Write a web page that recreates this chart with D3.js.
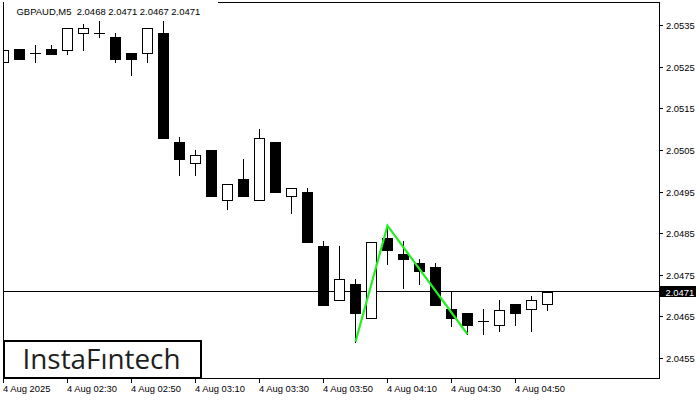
<!DOCTYPE html>
<html><head><meta charset="utf-8">
<script src="https://cdn.jsdelivr.net/npm/d3@7"></script>
<style>body{margin:0;background:#fff}svg{display:block}text{font-family:"Liberation Sans",Arial,sans-serif}</style>
</head><body><svg id="c" width="700" height="400"></svg>
<script>
const times = ["02:10","02:15","02:20","02:25","02:30","02:35","02:40","02:45","02:50","02:55","03:00","03:05","03:10","03:15","03:20","03:25","03:30","03:35","03:40","03:45","03:50","03:55","04:00","04:05","04:10","04:15","04:20","04:25","04:30","04:35","04:40","04:45","04:50","04:55","05:00"];
const opens  = [2.05260,2.05292,2.05282,2.05292,2.05290,2.05330,2.05331,2.05321,2.05283,2.05282,2.05331,2.05070,2.05019,2.05050,2.04930,2.04979,2.04930,2.05070,2.04939,2.04950,2.04820,2.04689,2.04728,2.04647,2.04839,2.04801,2.04779,2.04769,2.04667,2.04658,2.04638,2.04629,2.04679,2.04667,2.04679];
const highs  = [2.05291,2.05292,2.05303,2.05303,2.05343,2.05352,2.05360,2.05331,2.05283,2.05342,2.05360,2.05080,2.05050,2.05050,2.04969,2.05029,2.05101,2.05070,2.04959,2.04959,2.04830,2.04820,2.04740,2.04829,2.04866,2.04830,2.04789,2.04779,2.04709,2.04658,2.04667,2.04689,2.04679,2.04699,2.04708];
const lows   = [2.05260,2.05269,2.05260,2.05281,2.05280,2.05291,2.05320,2.05260,2.05230,2.05260,2.05079,2.04989,2.04989,2.04939,2.04908,2.04939,2.04930,2.04948,2.04899,2.04828,2.04678,2.04689,2.04589,2.04647,2.04777,2.04717,2.04727,2.04678,2.04628,2.04607,2.04607,2.04616,2.04629,2.04616,2.04666];
const closes = [2.05291,2.05269,2.05282,2.05281,2.05343,2.05342,2.05331,2.05269,2.05269,2.05342,2.05079,2.05028,2.05038,2.04939,2.04969,2.04939,2.05079,2.04948,2.04959,2.04828,2.04678,2.04740,2.04657,2.04829,2.04809,2.04787,2.04758,2.04678,2.04647,2.04629,2.04638,2.04666,2.04658,2.04689,2.04708];
const priceTicks = [2.0535,2.0525,2.0515,2.0505,2.0495,2.0485,2.0475,2.0465,2.0455];
const timeTickIdx = [0,4,8,12,16,20,24,28,32];
const timeTickLabels = ["4 Aug 2025","4 Aug 02:30","4 Aug 02:50","4 Aug 03:10","4 Aug 03:30","4 Aug 03:50","4 Aug 04:10","4 Aug 04:30","4 Aug 04:50"];
const patternIdx = [22,24,29];
const patternPrice = [2.04589,2.04868,2.04607];
const lastPrice = 2.0471;
const title = "GBPAUD,M5  2.0468 2.0471 2.0467 2.0471";

const svg = d3.select("#c");
const L=3, R=659, T=2, B=378;
const x = d3.scaleLinear().domain([0,41]).range([3.5,659.5]);
const y = d3.scaleLinear().domain([2.0455,2.0535]).range([358,25]);
const py = v => Math.round(y(v));

const clip = svg.append("defs").append("clipPath").attr("id","pc");
clip.append("rect").attr("x",L+1).attr("y",T+1).attr("width",R-L-1).attr("height",B-T-1);
const g = svg.append("g").attr("clip-path","url(#pc)");

// current price line
g.append("line").attr("x1",L).attr("x2",R).attr("y1",py(lastPrice)+0.5).attr("y2",py(lastPrice)+0.5)
 .attr("stroke","#000").attr("stroke-width",1);

const data = times.map((t,i)=>({i,o:opens[i],h:highs[i],l:lows[i],c:closes[i]}));
const cg = g.selectAll("g.c").data(data).enter().append("g");
cg.append("line")
  .attr("x1",d=>x(d.i)).attr("x2",d=>x(d.i))
  .attr("y1",d=>py(d.h)).attr("y2",d=>py(d.l)+1)
  .attr("stroke","#000").attr("stroke-width",1);
cg.each(function(d){
  const s=d3.select(this);
  const cx=x(d.i);
  const top=py(Math.max(d.o,d.c)), bot=py(Math.min(d.o,d.c));
  if (d.c>d.o){
    s.append("rect").attr("x",cx-5).attr("y",top+0.5).attr("width",10).attr("height",Math.max(bot-top,0))
     .attr("fill","#fff").attr("stroke","#000").attr("stroke-width",1);
  } else if (d.c<d.o){
    s.append("rect").attr("x",cx-5.5).attr("y",top).attr("width",11).attr("height",Math.max(bot-top+1,1))
     .attr("fill","#000");
  } else {
    s.append("line").attr("x1",cx-5.5).attr("x2",cx+5.5).attr("y1",top+0.5).attr("y2",top+0.5)
     .attr("stroke","#000").attr("stroke-width",1);
  }
});

// pattern line
g.append("path").datum(patternIdx.map((k,j)=>[x(k),y(patternPrice[j])]))
 .attr("d",d3.line()).attr("fill","none").attr("stroke","#22ee22").attr("stroke-width",2.2)
 .attr("stroke-linejoin","miter");

// frame
svg.append("line").attr("x1",L+0.5).attr("x2",L+0.5).attr("y1",T).attr("y2",B+1).attr("stroke","#000");
svg.append("line").attr("x1",R+0.5).attr("x2",R+0.5).attr("y1",T).attr("y2",B+1).attr("stroke","#000");
svg.append("line").attr("x1",L).attr("x2",R+1).attr("y1",B+0.5).attr("y2",B+0.5).attr("stroke","#000");
svg.append("line").attr("x1",218).attr("x2",R+1).attr("y1",T+0.5).attr("y2",T+0.5).attr("stroke","#000");

// title (scaled so it spans the same width as the reference)
const tt = svg.append("text").attr("x",16.5).attr("y",14.5).attr("font-size",10).attr("fill","#000")
  .style("white-space","pre").text(title);
const nat = tt.node().getComputedTextLength();
if (nat > 0) tt.attr("font-size", Math.min(11.5, 10*184/nat));

// right axis
const ra = svg.append("g");
priceTicks.forEach(t=>{
  const yy=py(t);
  ra.append("line").attr("x1",R+1).attr("x2",R+4).attr("y1",yy+0.5).attr("y2",yy+0.5).attr("stroke","#000");
  ra.append("text").attr("x",666).attr("y",yy+4).attr("font-size",9.4).attr("fill","#000").text(d3.format(".4f")(t));
});
const ly = py(lastPrice);
ra.append("rect").attr("x",660).attr("y",ly-5).attr("width",36).attr("height",11).attr("fill","#000");
ra.append("text").attr("x",665.5).attr("y",ly+4.5).attr("font-size",9.4).attr("fill","#fff").text(d3.format(".4f")(lastPrice));

// bottom axis
const ba = svg.append("g");
timeTickIdx.forEach((k,j)=>{
  const xx=Math.floor(x(k))+0.5;
  ba.append("line").attr("x1",xx).attr("x2",xx).attr("y1",B+1).attr("y2",B+5).attr("stroke","#000");
  ba.append("text").attr("x",xx-0.5).attr("y",392).attr("font-size",9.4).attr("fill","#000").text(timeTickLabels[j]);
});

// watermark
svg.append("rect").attr("x",4).attr("y",341).attr("width",197).attr("height",37)
  .attr("fill","#fff").attr("stroke","#000").attr("stroke-width",2);
svg.append("text").attr("x",22.5).attr("y",369).attr("font-size",28).attr("fill","#1e1e1e")
  .attr("textLength",158).attr("lengthAdjust","spacingAndGlyphs")
  .style("font-family","'Open Sans','Liberation Sans',sans-serif").text("InstaFıntech");
</script></body></html>
